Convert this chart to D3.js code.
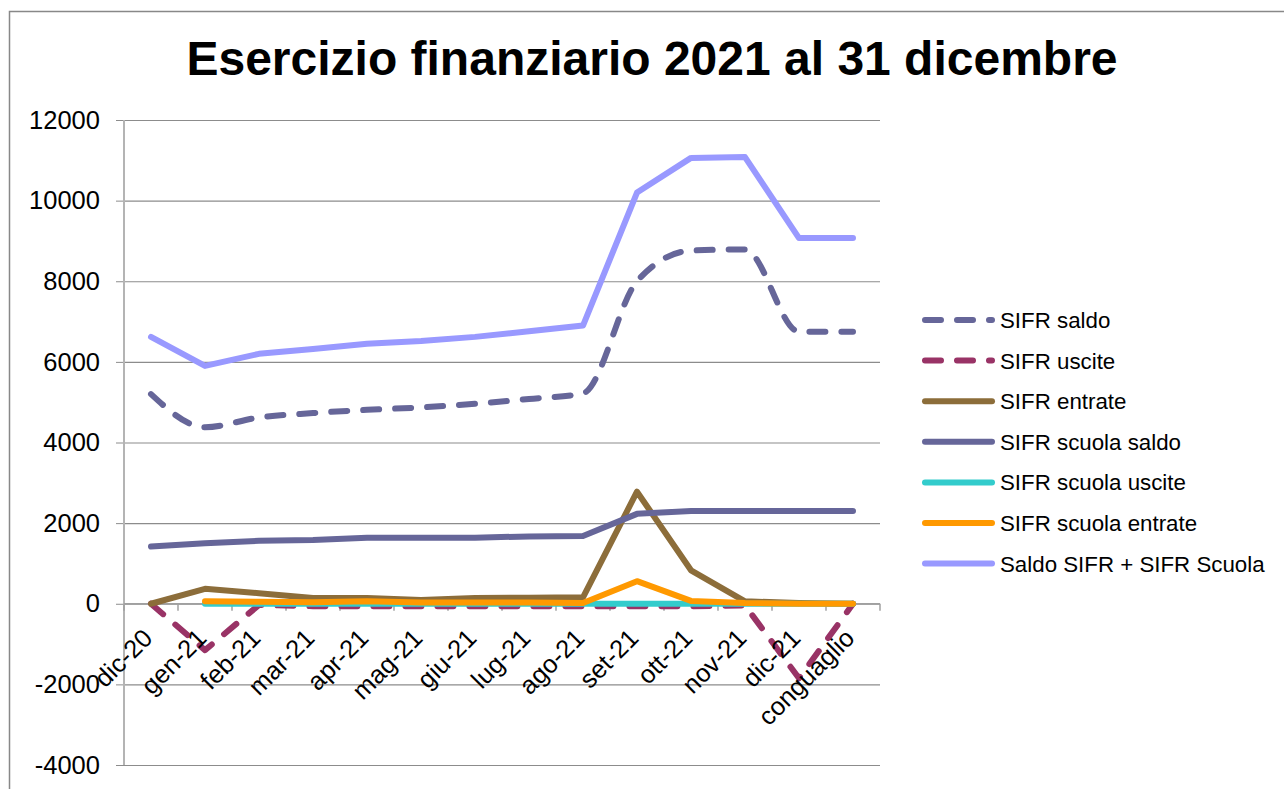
<!DOCTYPE html>
<html>
<head>
<meta charset="utf-8">
<script src="https://cdn.jsdelivr.net/npm/d3@7"></script>
<style>
  body { margin: 0; background: #fff; }
  svg { display: block; font-family: "Liberation Sans", Arial, sans-serif; }
</style>
</head>
<body>
<div id="chart"></div>
<script>
// Categories
const categories = ["dic-20", "gen-21", "feb-21", "mar-21", "apr-21", "mag-21", "giu-21",
  "lug-21", "ago-21", "set-21", "ott-21", "nov-21", "dic-21", "conguaglio"];

// Series values
const sifrSaldo = [5200, 4380, 4620, 4730, 4810, 4870, 4960, 5080, 5220, 8000, 8760, 8790, 6750, 6750];
const sifrUscite = [0, -1150, -30, -60, -60, -60, -60, -60, -60, -60, -60, -40, -1850, 0];
const sifrEntrate = [0, 370, 260, 140, 140, 90, 140, 150, 160, 2780, 830, 60, 20, 0];
const scuolaSaldo = [1420, 1500, 1560, 1580, 1640, 1640, 1640, 1670, 1680, 2230, 2300, 2300, 2300, 2300];
const scuolaUscite = [null, 0, 0, 0, 0, 0, 0, 0, 0, 0, 0, 0, 0, 0];
const scuolaEntrate = [null, 60, 50, 40, 60, 30, 30, 30, 20, 560, 70, 20, 0, 0];
const saldoTotale = [6620, 5900, 6200, 6320, 6450, 6520, 6620, 6760, 6900, 10200, 11060, 11080, 9070, 9070];

// Axis ticks
const yTicks = [-4000, -2000, 0, 2000, 4000, 6000, 8000, 10000, 12000];

const series = [
  { name: "SIFR saldo", values: sifrSaldo, color: "#666699", dashed: true, smooth: true },
  { name: "SIFR uscite", values: sifrUscite, color: "#993366", dashed: true },
  { name: "SIFR entrate", values: sifrEntrate, color: "#8c6d3a" },
  { name: "SIFR scuola saldo", values: scuolaSaldo, color: "#666699" },
  { name: "SIFR scuola uscite", values: scuolaUscite, color: "#33cccc" },
  { name: "SIFR scuola entrate", values: scuolaEntrate, color: "#ff9900" },
  { name: "Saldo SIFR + SIFR Scuola", values: saldoTotale, color: "#9999ff" }
];

const width = 1284, height = 789;
const plot = { left: 124, right: 880, top: 120, bottom: 765 };

const svg = d3.select("#chart").append("svg")
  .attr("width", width)
  .attr("height", height);

// chart frame
svg.append("rect")
  .attr("x", 9.5).attr("y", 11.5)
  .attr("width", width + 20).attr("height", height + 20)
  .attr("fill", "none")
  .attr("stroke", "#888").attr("stroke-width", 1.5);

svg.append("text")
  .attr("x", 652).attr("y", 75)
  .attr("text-anchor", "middle")
  .attr("font-size", 48).attr("font-weight", "bold")
  .text("Esercizio finanziario 2021 al 31 dicembre");

const x = d3.scaleBand()
  .domain(categories)
  .range([plot.left, plot.right])
  .padding(0);
const cx = c => x(c) + x.bandwidth() / 2;

const y = d3.scaleLinear()
  .domain([-4000, 12000])
  .range([plot.bottom, plot.top]);

// gridlines + y labels (plain hyphen for negatives, like the original)
const yAxis = svg.append("g")
  .attr("transform", `translate(${plot.left},0)`)
  .call(d3.axisLeft(y).tickValues(yTicks).tickFormat(d => String(d))
    .tickSize(8).tickPadding(16));
yAxis.select(".domain").remove();
yAxis.selectAll(".tick line").attr("stroke", "#8c8c8c");
yAxis.selectAll(".tick text")
  .attr("font-size", 25.5).attr("fill", "#000")
  .attr("font-family", "'Liberation Sans', Arial, sans-serif");

svg.append("g").selectAll("line")
  .data(yTicks)
  .join("line")
  .attr("x1", plot.left).attr("x2", plot.right)
  .attr("y1", d => y(d) + 0.5).attr("y2", d => y(d) + 0.5)
  .attr("stroke", "#8c8c8c").attr("stroke-width", 1.2);

// value axis line
svg.append("line")
  .attr("x1", plot.left).attr("x2", plot.left)
  .attr("y1", plot.top).attr("y2", plot.bottom)
  .attr("stroke", "#b4b4b4").attr("stroke-width", 2);

// category axis on zero line
svg.append("line")
  .attr("x1", plot.left).attr("x2", plot.right)
  .attr("y1", y(0)).attr("y2", y(0))
  .attr("stroke", "#a0a0a0").attr("stroke-width", 1.5);

svg.append("g").selectAll("line")
  .data(categories.concat([null]))
  .join("line")
  .attr("x1", (d, i) => plot.left + i * x.step())
  .attr("x2", (d, i) => plot.left + i * x.step())
  .attr("y1", y(0)).attr("y2", y(0) + 7)
  .attr("stroke", "#a0a0a0").attr("stroke-width", 1.5);

// series
const lineGen = d3.line()
  .defined(d => d.v !== null)
  .x(d => cx(d.c))
  .y(d => y(d.v));

series.forEach(s => {
  const pts = categories.map((c, i) => ({ c, v: s.values[i] }));
  svg.append("path")
    .datum(pts)
    .attr("d", lineGen.curve(s.smooth ? d3.curveMonotoneX : d3.curveLinear))
    .attr("fill", "none")
    .attr("stroke", s.color)
    .attr("stroke-width", 6)
    .attr("stroke-linejoin", "round")
    .attr("stroke-linecap", "round")
    .attr("stroke-dasharray", s.dashed ? "16,16" : null);
});

// category labels
svg.append("g").selectAll("text")
  .data(categories)
  .join("text")
  .attr("transform", d => `translate(${cx(d) + 3},${y(0) + 36}) rotate(-45)`)
  .attr("text-anchor", "end")
  .attr("font-size", 25.5)
  .text(d => d);

// legend
const legend = svg.append("g")
  .selectAll("g")
  .data(series)
  .join("g")
  .attr("transform", (d, i) => `translate(0,${320 + i * 40.6})`);

legend.append("line")
  .attr("x1", 925).attr("x2", 992)
  .attr("stroke", d => d.color)
  .attr("stroke-width", 6)
  .attr("stroke-linecap", "round")
  .attr("stroke-dasharray", d => d.dashed ? "16,16" : null);

legend.append("text")
  .attr("x", 1000).attr("y", 8)
  .attr("font-size", 22.3)
  .text(d => d.name);
</script>
</body>
</html>
